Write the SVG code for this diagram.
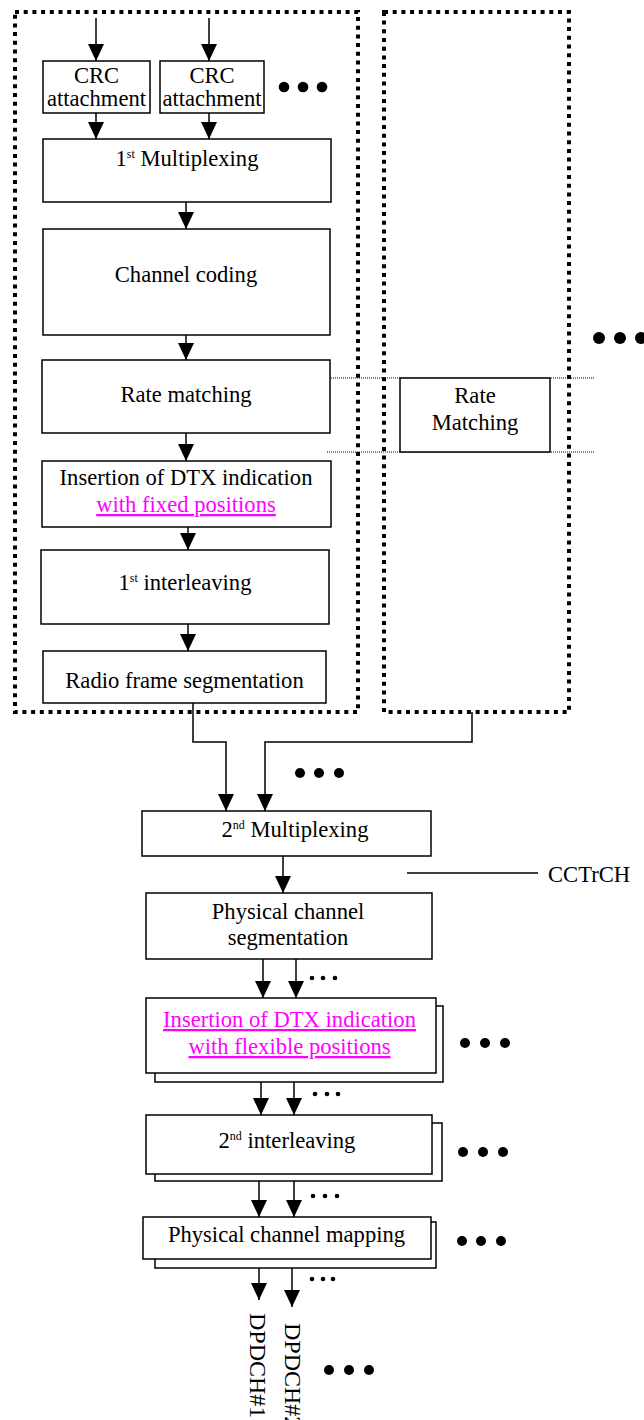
<svg xmlns="http://www.w3.org/2000/svg" width="644" height="1420" viewBox="0 0 644 1420" font-family="Liberation Serif, Times New Roman, serif">
<style>
.box{fill:#fff;stroke:#000;stroke-width:1.5}
.dotbox{fill:none;stroke:#000;stroke-width:4;stroke-dasharray:4 4.7}
.thin{fill:none;stroke:#000;stroke-width:1;stroke-dasharray:1 1}
.ln{fill:none;stroke:#000;stroke-width:1.5}
.arr{fill:none;stroke:#000;stroke-width:1.5;marker-end:url(#ah)}
.t{font-family:"Liberation Serif","Times New Roman",serif;font-size:22.6px;fill:#000;text-anchor:middle}
.ts{text-anchor:start}
.v{font-size:24px}
.mg{fill:#FF00FF;text-decoration:underline}
.sup{font-size:12px}
.dot{fill:#000}
</style>
<defs>
<marker id="ah" markerUnits="userSpaceOnUse" markerWidth="17" markerHeight="16" refX="17" refY="8" orient="auto">
<path d="M0,0 L17,8 L0,16 z" fill="#000"/>
</marker>
</defs>
<rect width="644" height="1420" fill="#fff"/>

<g id="transport-chain-1">
<rect class="dotbox" x="15" y="12" width="343" height="700"/>
</g>
<g id="transport-chain-2">
<rect class="dotbox" x="384" y="12" width="185" height="700"/>
</g>

<g id="connectors">
<line class="arr" x1="96" y1="18" x2="96" y2="61"/>
<line class="arr" x1="209" y1="18" x2="209" y2="61"/>
<line class="arr" x1="96" y1="113" x2="96" y2="139"/>
<line class="arr" x1="209" y1="113" x2="209" y2="139"/>
<line class="arr" x1="186" y1="202" x2="186" y2="229"/>
<line class="arr" x1="186" y1="335" x2="186" y2="360"/>
<line class="arr" x1="186" y1="433" x2="186" y2="461"/>
<line class="arr" x1="188" y1="527" x2="188" y2="550"/>
<line class="arr" x1="188" y1="624" x2="188" y2="651"/>
<polyline class="arr" points="193,703 193,742 226,742 226,811"/>
<polyline class="arr" points="472,712 472,742 265,742 265,811"/>
<line class="arr" x1="283" y1="856" x2="283" y2="893"/>
<line class="ln" x1="407" y1="873" x2="538" y2="873"/>
<line class="arr" x1="263" y1="959" x2="263" y2="998"/>
<line class="arr" x1="296" y1="959" x2="296" y2="998"/>
<line class="arr" x1="261" y1="1073" x2="261" y2="1115"/>
<line class="arr" x1="294" y1="1082" x2="294" y2="1115"/>
<line class="arr" x1="259" y1="1174" x2="259" y2="1217"/>
<line class="arr" x1="294" y1="1181" x2="294" y2="1217"/>
<line class="arr" x1="259" y1="1259" x2="259" y2="1300"/>
<line class="arr" x1="292" y1="1268" x2="292" y2="1307"/>
<line class="thin" x1="327" y1="378" x2="595" y2="378"/>
<line class="thin" x1="327" y1="452" x2="595" y2="452"/>
</g>

<g id="crc1">
<rect class="box" x="43" y="61" width="107" height="52"/>
<text class="t" x="96.5" y="83">CRC</text>
<text class="t" x="96.5" y="106">attachment</text>
</g>
<g id="crc2">
<rect class="box" x="160" y="61" width="104" height="52"/>
<text class="t" x="212" y="83">CRC</text>
<text class="t" x="212" y="106">attachment</text>
</g>
<g id="dots-top">
<circle class="dot" cx="284" cy="87" r="5.3"/><circle class="dot" cx="303" cy="87" r="5.3"/><circle class="dot" cx="322" cy="87" r="5.3"/>
</g>
<g id="mux1">
<rect class="box" x="43" y="139" width="288" height="63"/>
<text class="t" x="187" y="166">1<tspan class="sup" dy="-8">st</tspan><tspan dy="8"> Multiplexing</tspan></text>
</g>
<g id="channel-coding">
<rect class="box" x="43" y="229" width="287" height="106"/>
<text class="t" x="186" y="282">Channel coding</text>
</g>
<g id="rate-matching">
<rect class="box" x="42" y="360" width="288" height="73"/>
<text class="t" x="186" y="402">Rate matching</text>
</g>
<g id="rate-matching-2">
<rect class="box" x="400" y="378" width="150" height="74"/>
<text class="t" x="475" y="403">Rate</text>
<text class="t" x="475" y="430">Matching</text>
</g>
<g id="dots-right">
<circle class="dot" cx="599" cy="338" r="6"/><circle class="dot" cx="620" cy="338" r="6"/><circle class="dot" cx="641" cy="338" r="6"/>
</g>
<g id="dtx-fixed">
<rect class="box" x="42" y="461" width="289" height="66"/>
<text class="t" x="186" y="485">Insertion of DTX indication</text>
<text class="t mg" x="186" y="512">with fixed positions</text>
</g>
<g id="interleaving1">
<rect class="box" x="41" y="550" width="288" height="74"/>
<text class="t" x="185" y="590">1<tspan class="sup" dy="-8">st</tspan><tspan dy="8">  interleaving</tspan></text>
</g>
<g id="radio-frame-seg">
<rect class="box" x="43" y="651" width="283" height="52"/>
<text class="t" x="184.5" y="688">Radio frame segmentation</text>
</g>
<g id="dots-mux">
<circle class="dot" cx="300" cy="773" r="5"/><circle class="dot" cx="319" cy="773" r="5"/><circle class="dot" cx="339" cy="773" r="5"/>
</g>
<g id="mux2">
<rect class="box" x="142" y="811" width="289" height="45"/>
<text class="t" x="295" y="837">2<tspan class="sup" dy="-8">nd</tspan><tspan dy="8"> Multiplexing</tspan></text>
</g>
<g id="cctrch">
<text class="t ts" x="548" y="882">CCTrCH</text>
</g>
<g id="phys-seg">
<rect class="box" x="146" y="893" width="286" height="66"/>
<text class="t" x="288" y="919">Physical channel</text>
<text class="t" x="288" y="945">segmentation</text>
</g>
<g id="dots-seg">
<circle class="dot" cx="312" cy="978" r="2.3"/><circle class="dot" cx="323" cy="978" r="2.3"/><circle class="dot" cx="335" cy="978" r="2.3"/>
</g>
<g id="dtx-flexible">
<rect class="box" x="155" y="1006" width="288" height="76"/>
<rect class="box" x="146" y="998" width="290" height="75"/>
<text class="t mg" x="289.5" y="1027">Insertion of DTX indication</text>
<text class="t mg" x="289.5" y="1054">with flexible positions</text>
<circle class="dot" cx="465" cy="1043" r="5"/><circle class="dot" cx="485" cy="1043" r="5"/><circle class="dot" cx="505" cy="1043" r="5"/>
</g>
<g id="dots-flex">
<circle class="dot" cx="315" cy="1094" r="2.3"/><circle class="dot" cx="327" cy="1094" r="2.3"/><circle class="dot" cx="338" cy="1094" r="2.3"/>
</g>
<g id="interleaving2">
<rect class="box" x="155" y="1123" width="287" height="58"/>
<rect class="box" x="146" y="1115" width="286" height="59"/>
<text class="t" x="287" y="1148">2<tspan class="sup" dy="-8">nd</tspan><tspan dy="8"> interleaving</tspan></text>
<circle class="dot" cx="463" cy="1152" r="5"/><circle class="dot" cx="483" cy="1152" r="5"/><circle class="dot" cx="503" cy="1152" r="5"/>
</g>
<g id="dots-int">
<circle class="dot" cx="313" cy="1196" r="2.3"/><circle class="dot" cx="325" cy="1196" r="2.3"/><circle class="dot" cx="337" cy="1196" r="2.3"/>
</g>
<g id="phys-map">
<rect class="box" x="155" y="1222" width="281" height="46"/>
<rect class="box" x="143" y="1217" width="288" height="42"/>
<text class="t" x="286.5" y="1242">Physical channel mapping</text>
<circle class="dot" cx="462" cy="1241" r="5"/><circle class="dot" cx="481" cy="1241" r="5"/><circle class="dot" cx="501" cy="1241" r="5"/>
</g>
<g id="dots-map">
<circle class="dot" cx="312" cy="1279" r="2.3"/><circle class="dot" cx="323" cy="1279" r="2.3"/><circle class="dot" cx="333" cy="1279" r="2.3"/>
</g>
<g id="dpdch1">
<text class="t ts v" transform="translate(250,1313) rotate(90)">DPDCH#1</text>
</g>
<g id="dpdch2">
<text class="t ts v" transform="translate(285,1323) rotate(90)">DPDCH#2</text>
</g>
<g id="dots-bottom">
<circle class="dot" cx="329" cy="1370" r="5"/><circle class="dot" cx="349" cy="1370" r="5"/><circle class="dot" cx="369" cy="1370" r="5"/>
</g>
</svg>
